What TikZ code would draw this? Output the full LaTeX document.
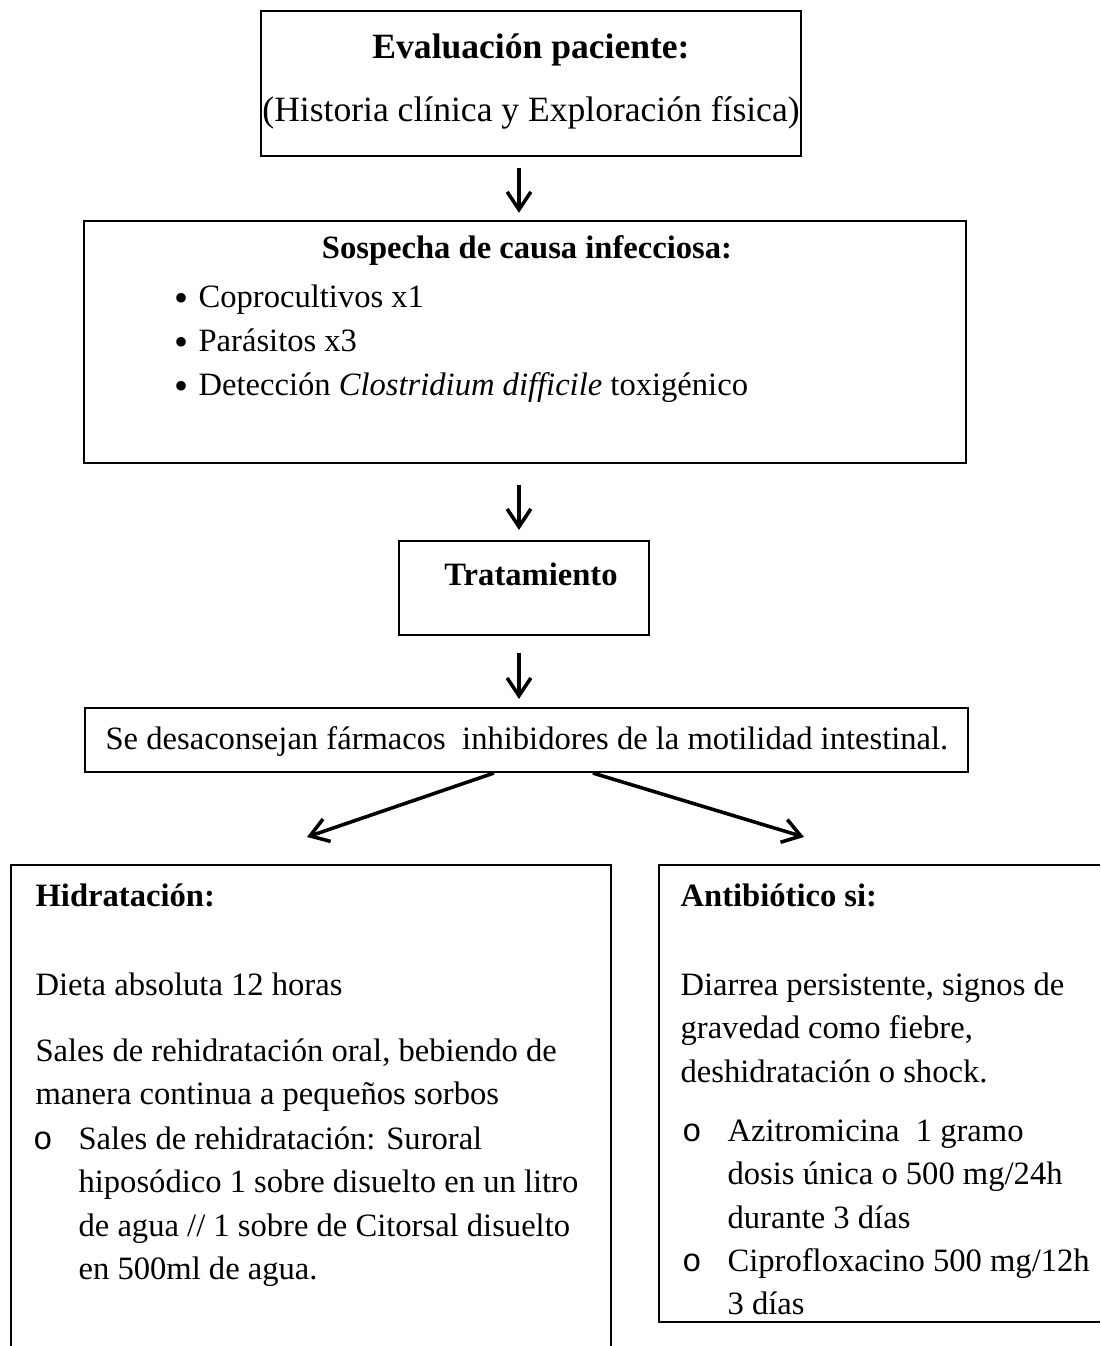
\documentclass[tikz,border=0pt]{standalone}
\usepackage{fontspec}
\setmainfont{Liberation Serif}
\newfontfamily\markfont{Liberation Mono}
\usetikzlibrary{arrows.meta,fit}

\newcommand{\stack}[1]{\begin{tabular}[t]{@{}l@{}}#1\end{tabular}}

\tikzset{
  frame/.style={draw, line width=0.7pt, inner sep=0pt},
  txt/.style={inner sep=0pt, anchor=base west},
  ctxt/.style={inner sep=0pt, anchor=base},
  big/.style={font=\fontsize{12}{14.7}\selectfont},
  dot/.style={inner sep=0pt, anchor=base, font=\fontsize{13.5}{14.7}\selectfont},
  flow/.style={-{Straight Barb[length=6pt,width=8pt]}, line width=1.2pt},
}

\begin{document}
\begin{tikzpicture}[x=0.3375pt, y=-0.3375pt, font=\fontsize{11}{14.7}\selectfont]
\useasboundingbox (0,0) rectangle (1100,1346);

% Frames
\node[frame, fit={(261,11) (801,156)}] (eval) {};
\node[frame, fit={(84,221) (966,463)}] (sosp) {};
\node[frame, fit={(399,541) (649,635)}] (trat) {};
\node[frame, fit={(85,708) (968,772)}] (advice) {};
\draw[frame] (11,1346) |- (611,865) -- (611,1346);
\draw[frame] (1100,865) -| (659,1322) -- (1100,1322);

% Texts
\node[ctxt, big] (evalTitle) at (531,58) {\textbf{Evaluación paciente:}};
\node[ctxt, big] (evalSub) at (531,121) {(Historia clínica y Exploración física)};

\node[ctxt] (sospTitle) at (527,258) {\textbf{Sospecha de causa infecciosa:}};
\node[dot] (bulA) at (181,311) {•};
\node[txt] (copro) at (198,307) {Coprocultivos x1};
\node[dot] (bulB) at (181,355) {•};
\node[txt] (paras) at (198,351) {Parásitos x3};
\node[dot] (bulC) at (181,399) {•};
\node[txt] (clostr) at (198,395) {Detección \textit{Clostridium difficile} toxigénico};

\node[ctxt] (tratTitle) at (531,585) {\textbf{Tratamiento}};

\node[txt] (adviceText) at (105,749) {Se desaconsejan fármacos\ \ inhibidores de la motilidad intestinal.};

\node[txt] (hidTitle) at (35,906) {\textbf{Hidratación:}};
\node[txt] (dieta) at (35,995) {Dieta absoluta 12 horas};
\node[txt] (sales) at (35,1061) {\stack{Sales de rehidratación oral, bebiendo de\\manera continua a pequeños sorbos}};
\node[ctxt] (markA) at (43,1149) {\markfont o};
\node[txt] (suroral) at (78,1149) {\stack{Sales de rehidratación: Suroral\\hiposódico 1 sobre disuelto en un litro\\de agua // 1 sobre de Citorsal disuelto\\en 500ml de agua.}};

\node[txt] (antiTitle) at (680,906) {\textbf{Antibiótico si:}};
\node[txt] (diarrea) at (680,995) {\stack{Diarrea persistente, signos de\\gravedad como fiebre,\\deshidratación o shock.}};
\node[ctxt] (markB) at (692,1141) {\markfont o};
\node[txt] (azitro) at (727,1141) {\stack{Azitromicina\ \ 1 gramo\\dosis única o 500 mg/24h\\durante 3 días}};
\node[ctxt] (markC) at (692,1271) {\markfont o};
\node[txt] (cipro) at (727,1271) {\stack{Ciprofloxacino 500 mg/12h\\3 días}};

% Arrows
\coordinate (spine) at (519,0);
\coordinate (hidTip) at (307,837);
\coordinate (antiTip) at (804,837);
\draw[flow, shorten <=3.7pt, shorten >=2.4pt] (eval.south -| spine) -- (sosp.north -| spine);
\draw[flow, shorten <=7.1pt, shorten >=3.4pt] (sosp.south -| spine) -- (trat.north -| spine);
\draw[flow, shorten <=5.7pt, shorten >=2.7pt] (trat.south -| spine) -- (advice.north -| spine);
\draw[flow] ([xshift=-11pt]advice.south) -- (hidTip);
\draw[flow] ([xshift=22.4pt]advice.south) -- (antiTip);
\end{tikzpicture}
\end{document}
